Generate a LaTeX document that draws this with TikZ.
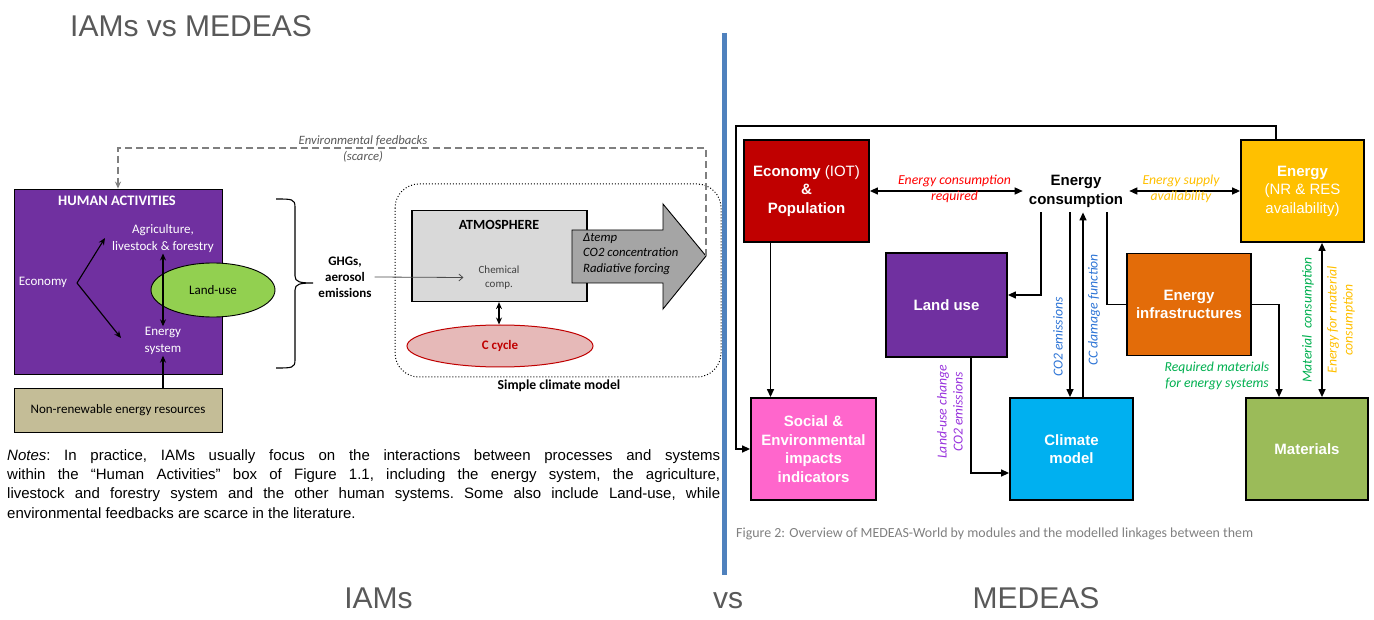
\documentclass[tikz,border=0pt]{standalone}
\usepackage{fontspec}
\setmainfont{Liberation Sans}
\newfontfamily\calib{Carlito}
\usetikzlibrary{arrows.meta,shapes.geometric,calc}
\definecolor{hapurple}{HTML}{7030A0}
\definecolor{lugreen}{HTML}{92D050}
\definecolor{nrtan}{HTML}{C4BD97}
\definecolor{atmgray}{HTML}{D9D9D9}
\definecolor{bigarrow}{HTML}{A5A5A5}
\definecolor{cpink}{HTML}{E6B9B8}
\definecolor{cred}{HTML}{C00000}
\definecolor{econred}{HTML}{C00000}
\definecolor{enyellow}{HTML}{FFC000}
\definecolor{infraorange}{HTML}{E36C09}
\definecolor{climblue}{HTML}{00B0F0}
\definecolor{socpink}{HTML}{FF66CC}
\definecolor{matgreen}{HTML}{9BBB59}
\definecolor{divblue}{HTML}{4F81BD}
\definecolor{titlegray}{HTML}{595959}
\definecolor{fbgray}{HTML}{7F7F7F}
\definecolor{lblred}{HTML}{FF0000}
\definecolor{lblgold}{HTML}{FFC000}
\definecolor{lblblue}{HTML}{2E75D6}
\definecolor{lblpurple}{HTML}{9933DD}
\definecolor{lblgreen}{HTML}{00B050}
\definecolor{capgray}{HTML}{808080}
\tikzset{
  arr/.style={-{Triangle[length=8pt,width=7pt]}, line width=1.3pt},
  dblarr/.style={{Triangle[length=8pt,width=7pt]}-{Triangle[length=8pt,width=7pt]}, line width=1.3pt},
  larr/.style={-{Stealth[length=7pt,width=6pt]}, line width=1.1pt},
  ldblarr/.style={{Stealth[length=7pt,width=6pt]}-{Stealth[length=7pt,width=6pt]}, line width=1.1pt},
  modbox/.style={draw=black, line width=1.8pt, minimum width=124pt, minimum height=102pt, align=center, text=white, inner sep=0pt, font=\fontsize{15}{18.5}\selectfont\bfseries},
  ilbl/.style={font=\calib\itshape\fontsize{13.7}{16}\selectfont, align=center, inner sep=0pt},
  ltxt/.style={font=\calib\fontsize{13}{16.5}\selectfont, align=center, inner sep=1pt},
  bigtxt/.style={font=\fontsize{30}{34}\selectfont, text=titlegray, inner sep=0pt},
}
\begin{document}
\begin{tikzpicture}[x=1pt,y=-1pt]
\useasboundingbox (0,0) rectangle (1374,620);
\fill[white] (0,0) rectangle (1374,620);

% titles and divider
\node[bigtxt, anchor=base west] (title) at (70,37) {IAMs vs MEDEAS};
\draw[line width=5pt, divblue] (724,33) -- (724,575);
\node[bigtxt, anchor=base] (biam) at (378.5,608) {IAMs};
\node[bigtxt, anchor=base] (bvs) at (728,608) {vs};
\node[bigtxt, anchor=base] (bmed) at (1036,608) {MEDEAS};

% ================= LEFT: IAMs =================
\node[draw=black, line width=0.8pt, fill=hapurple, minimum width=208pt, minimum height=185pt, inner sep=0pt] (ha) at (118,281.5) {};
\node[font=\calib\bfseries\fontsize{14.5}{16}\selectfont, text=white, inner sep=0pt] (hat) at (117,201) {HUMAN ACTIVITIES};
\node[ltxt, text=white] (agri) at (163,238.5) {Agriculture,\\livestock \& forestry};
\node[ltxt, text=white] (econl) at (43,282) {Economy};
\node[ltxt, text=white] (es) at (163,341) {Energy\\system};
\node[ellipse, draw=black, line width=0.9pt, fill=lugreen, minimum width=124pt, minimum height=54pt, inner sep=0pt, font=\calib\fontsize{13}{16}\selectfont] (lue) at (213,290) {Land-use};
\node[draw=black, line width=0.9pt, fill=nrtan, minimum width=208pt, minimum height=44pt, font=\calib\fontsize{13}{16}\selectfont] (nr) at (118,410) {Non-renewable energy resources};

\coordinate (ev) at (77,283);
\coordinate (ea1) at (105,238);
\coordinate (ea2) at (121,338);
\draw[larr] (ev) -- (ea1);
\draw[larr] (ev) -- (ea2);
\draw[ldblarr] (agri.south) -- (es.north);
\draw[larr] (es.south |- nr.north) -- (es.south);

% brace
\draw[line width=1.1pt] (276,199) .. controls (292,199) and (295,199) .. (295,207) -- (295,276)
  .. controls (295,282) and (300,283) .. (313,283)
  .. controls (300,283) and (295,284) .. (295,290) -- (295,360)
  .. controls (295,368) and (292,368) .. (276,368);

\node[font=\calib\bfseries\fontsize{13}{16}\selectfont, align=center, inner sep=3pt] (ghg) at (345,277) {GHGs,\\aerosol\\emissions};

% simple climate model
\draw[dotted, line width=1pt, rounded corners=24pt] (395,184) rectangle (721,377);
\node[draw=black, line width=1.2pt, fill=atmgray, minimum width=175pt, minimum height=91pt] (atm) at (499.5,256) {};
\node[font=\calib\bfseries\fontsize{14}{16}\selectfont, inner sep=0pt] (atmt) at (499,225) {ATMOSPHERE};
\node[font=\calib\fontsize{11}{14.5}\selectfont, text=black!75, align=center, inner xsep=15pt, inner ysep=1pt] (chem) at (499,277.5) {Chemical\\comp.};
\draw[-{Straight Barb[length=4pt,width=7pt]}, line width=0.8pt, black!70] (ghg.east) -- (chem.west);

\draw[line width=0.9pt, fill=bigarrow] (572,230) -- (663,230) -- (663,204) -- (706,256) -- (663,309) -- (663,283) -- (572,283) -- cycle;
\coordinate (tip) at (706,256);
\node[anchor=west, font=\calib\itshape\fontsize{12.7}{15.7}\selectfont, align=left, inner sep=0pt] (atxt) at (583,254) {Δtemp\\CO2 concentration\\Radiative forcing};

\node[ellipse, draw=cred, line width=1pt, fill=cpink, minimum width=186pt, minimum height=42pt, text=cred, font=\calib\bfseries\fontsize{13}{16}\selectfont] (cc) at (500,346) {C cycle};
\draw[ldblarr] (atm.south -| chem.south) -- (cc.north -| chem.south);
\node[font=\calib\bfseries\fontsize{13.7}{16}\selectfont, inner sep=0pt] (scm) at (559,386) {Simple climate model};

% environmental feedbacks
\coordinate (fby) at (0,148);
\coordinate (fbx) at (118,0);
\draw[dash pattern=on 7pt off 4pt, fbgray, line width=1.5pt, -{Stealth[length=7pt,width=6pt]}] (tip) -- (tip |- fby) -| (fbx |- ha.north);
\node[font=\calib\itshape\fontsize{12.7}{16}\selectfont, text=titlegray, align=center, inner sep=0pt] (fbl) at (363,149) {Environmental feedbacks\\(scarce)};

% notes
\node[anchor=north west, text width=713pt, inner sep=0pt, font=\fontsize{15}{19.4}\selectfont\frenchspacing, align=justify] (notes) at (7,449)
{\textit{Notes}: In practice, IAMs usually focus on the interactions between processes and systems\linebreak
within the “Human Activities” box of Figure 1.1, including the energy system, the agriculture,\linebreak
livestock and forestry system and the other human systems. Some also include Land-use, while\linebreak
environmental feedbacks are scarce in the literature.};

% ================= RIGHT: MEDEAS =================
\node[modbox, fill=econred, minimum width=125pt] (econ) at (806.5,191) {Economy {\mdseries(IOT)}\\\&\\Population};
\node[modbox, fill=enyellow, minimum width=123pt] (en) at (1302.5,191) {Energy\\{\mdseries(NR \& RES}\\{\mdseries availability)}};
\node[font=\fontsize{15}{19}\selectfont\bfseries, align=center, inner xsep=6pt, inner ysep=5pt] (ec) at (1076,191) {Energy\\consumption};
\node[modbox, fill=hapurple, minimum width=121pt, minimum height=104pt] (lu) at (946.5,305) {Land use};
\node[modbox, fill=infraorange] (inf) at (1189,304.5) {Energy\\infrastructures};
\node[modbox, fill=socpink, minimum width=125pt] (soc) at (813.5,449) {Social \&\\Environmental\\impacts\\indicators};
\node[modbox, fill=climblue, minimum width=123pt] (clim) at (1071.5,449) {Climate\\model};
\node[modbox, fill=matgreen, minimum width=122pt] (mat) at (1307,449) {Materials};

\coordinate (xa) at (1041,0);
\coordinate (xb) at (1070,0);
\coordinate (xc) at (1083,0);
\coordinate (xd) at (1107,0);
\coordinate (xe) at (770.5,0);
\coordinate (xf) at (1322,0);
\coordinate (xg) at (1279,0);
\coordinate (xh) at (971,0);
\coordinate (xi) at (1276,0);
\coordinate (fbtop) at (0,126);
\coordinate (fbleft) at (736,0);

\draw[dblarr] (econ.east) -- (ec.west);
\draw[dblarr] (ec.east) -- (en.west);
\draw[arr] (ec.south -| xa) |- ([yshift=10pt]lu.east);
\draw[arr] (ec.south -| xb) -- (clim.north -| xb);
\draw[arr] (clim.north -| xc) -- (ec.south -| xc);
\draw[line width=1.3pt] (ec.south -| xd) |- (inf.west);
\draw[arr] (econ.south -| xe) -- (soc.north -| xe);
\draw[dblarr] (en.south -| xf) -- (mat.north -| xf);
\draw[arr] (inf.east) -| (mat.north -| xg);
\draw[arr] (lu.south -| xh) |- ([yshift=-24pt]clim.west);
\draw[arr] (en.north -| xi) -- (xi |- fbtop) -- (fbleft |- fbtop) |- (soc.west);

% labels
\node[ilbl, text=lblred] (l1) at (954.5,189) {Energy consumption\\required};
\node[ilbl, text=lblgold] (l2) at (1181,189) {Energy supply\\availability};
\node[ilbl, text=lblblue, rotate=90] (l3) at (1058,337) {CO2 emissions};
\node[ilbl, text=lblblue, rotate=90] (l4) at (1094,310) {CC damage function};
\node[ilbl, text=lblpurple, rotate=90] (l5) at (950,412) {Land-use change\\CO2 emissions};
\node[ilbl, text=lblgreen, rotate=90] (l6) at (1308,320) {Material\ \ consumption};
\node[ilbl, text=lblgold, rotate=90] (l7) at (1341,320) {Energy for material\\consumption};
\node[ilbl, text=lblgreen] (l8) at (1217,376) {Required materials\\for energy systems};

\node[anchor=base west, font=\calib\fontsize{13.9}{16}\selectfont, text=capgray, inner sep=0pt] (cap) at (736,537) {Figure 2: Overview of MEDEAS-World by modules and the modelled linkages between them};
\end{tikzpicture}
\end{document}
